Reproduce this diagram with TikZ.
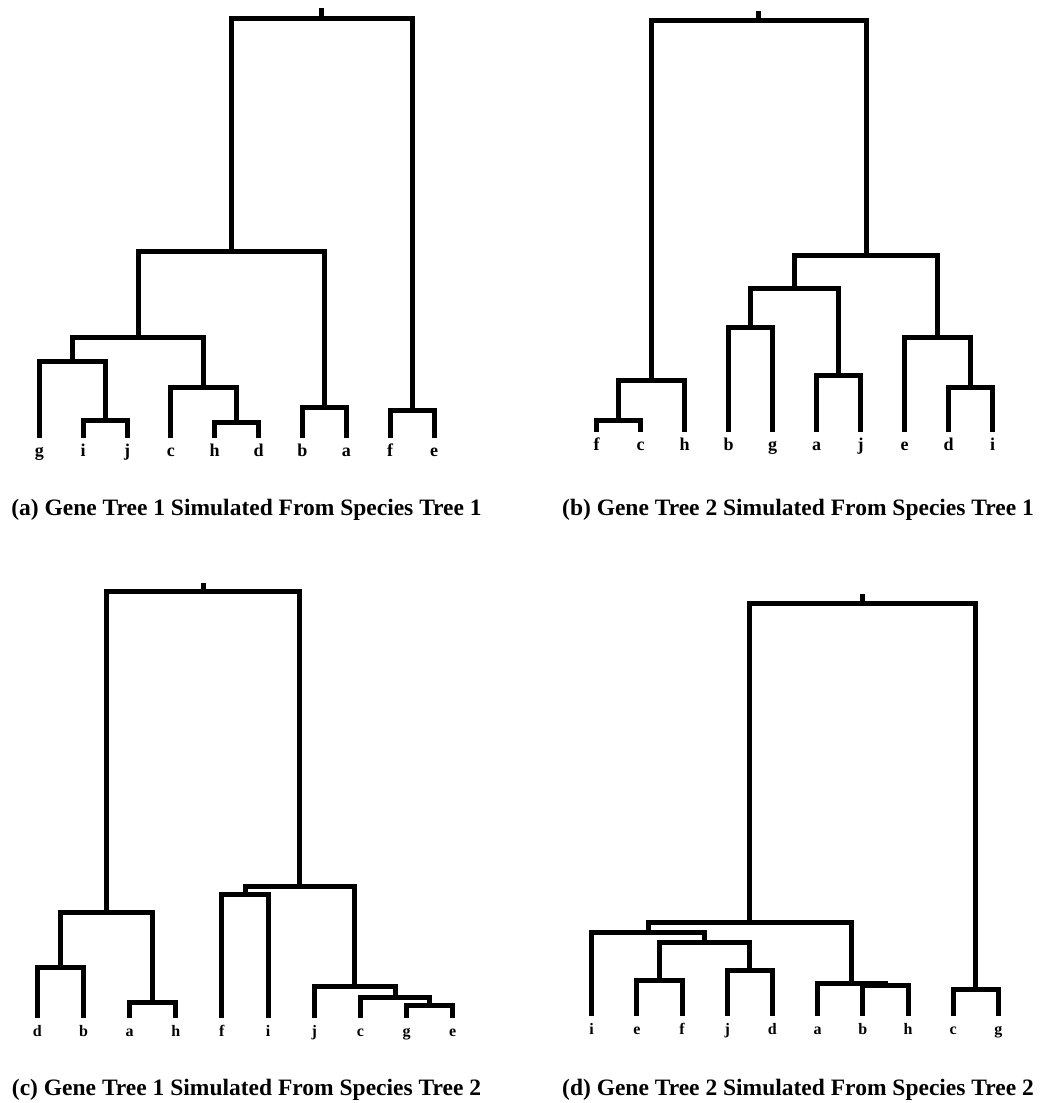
\documentclass[tikz,border=0pt]{standalone}
\usepackage{fontspec}
\setmainfont{Liberation Serif}
\usepackage{tikz}

\begin{document}
\begin{tikzpicture}[x=1pt, y=-1pt,
    branch/.style={line width=5pt},
    leafab/.style={anchor=north, inner xsep=0pt, inner ysep=7pt, text height=11.5pt, text depth=4pt, font=\bfseries\fontsize{18}{18}\selectfont},
    leafcd/.style={anchor=north, inner xsep=0pt, inner ysep=8pt, text height=10pt, text depth=3.5pt, font=\bfseries\fontsize{16}{16}\selectfont},
    caption/.style={anchor=base, font=\bfseries\fontsize{23.5}{23.5}\selectfont}]
    \useasboundingbox (0,0) rectangle (1040,1103);

    % (a) gene tree 1, species tree 1
    \node[leafab] (a-g) at (39.3,438) {g};
    \node[leafab] (a-i) at (83.2,438) {i};
    \node[leafab] (a-j) at (127.0,438) {j};
    \node[leafab] (a-c) at (170.9,438) {c};
    \node[leafab] (a-h) at (214.7,438) {h};
    \node[leafab] (a-d) at (258.6,438) {d};
    \node[leafab] (a-b) at (302.4,438) {b};
    \node[leafab] (a-a) at (346.3,438) {a};
    \node[leafab] (a-f) at (390.1,438) {f};
    \node[leafab] (a-e) at (434.0,438) {e};
    \coordinate (a-ij) at (105.1,420);
    \coordinate (a-gij) at (72.2,361);
    \coordinate (a-hd) at (236.7,422);
    \coordinate (a-chd) at (203.8,387);
    \coordinate (a-gc) at (138.0,337);
    \coordinate (a-ba) at (324.4,407);
    \coordinate (a-gb) at (231.2,251);
    \coordinate (a-fe) at (412.1,410);
    \coordinate (a-root) at (321.6,18.5);
    \coordinate (a-top) at (321.6,8);
    \draw[branch] (a-ij) -| (a-i.north) (a-ij) -| (a-j.north);
    \draw[branch] (a-gij) -| (a-g.north) (a-gij) -| (a-ij);
    \draw[branch] (a-hd) -| (a-h.north) (a-hd) -| (a-d.north);
    \draw[branch] (a-chd) -| (a-c.north) (a-chd) -| (a-hd);
    \draw[branch] (a-gc) -| (a-gij) (a-gc) -| (a-chd);
    \draw[branch] (a-ba) -| (a-b.north) (a-ba) -| (a-a.north);
    \draw[branch] (a-gb) -| (a-gc) (a-gb) -| (a-ba);
    \draw[branch] (a-fe) -| (a-f.north) (a-fe) -| (a-e.north);
    \draw[branch] (a-root) -| (a-gb) (a-root) -| (a-fe);
    \draw[branch] (a-root) -- (a-top);
    \node[caption] (a-cap) at (246.5,515) {(a) Gene Tree 1 Simulated From Species Tree 1};

    % (b) gene tree 2, species tree 1
    \node[leafab] (b-f) at (596.7,432) {f};
    \node[leafab] (b-c) at (640.7,432) {c};
    \node[leafab] (b-h) at (684.7,432) {h};
    \node[leafab] (b-b) at (728.7,432) {b};
    \node[leafab] (b-g) at (772.7,432) {g};
    \node[leafab] (b-a) at (816.7,432) {a};
    \node[leafab] (b-j) at (860.7,432) {j};
    \node[leafab] (b-e) at (904.7,432) {e};
    \node[leafab] (b-d) at (948.7,432) {d};
    \node[leafab] (b-i) at (992.7,432) {i};
    \coordinate (b-fc) at (618.7,420);
    \coordinate (b-fch) at (651.7,380);
    \coordinate (b-bg) at (750.7,327);
    \coordinate (b-aj) at (838.7,375);
    \coordinate (b-ba) at (794.7,288.5);
    \coordinate (b-di) at (970.7,387);
    \coordinate (b-edi) at (937.7,337);
    \coordinate (b-be) at (866.2,255);
    \coordinate (b-root) at (758.9,20.7);
    \coordinate (b-top) at (758.9,10.5);
    \draw[branch] (b-fc) -| (b-f.north) (b-fc) -| (b-c.north);
    \draw[branch] (b-fch) -| (b-fc) (b-fch) -| (b-h.north);
    \draw[branch] (b-bg) -| (b-b.north) (b-bg) -| (b-g.north);
    \draw[branch] (b-aj) -| (b-a.north) (b-aj) -| (b-j.north);
    \draw[branch] (b-ba) -| (b-bg) (b-ba) -| (b-aj);
    \draw[branch] (b-di) -| (b-d.north) (b-di) -| (b-i.north);
    \draw[branch] (b-edi) -| (b-e.north) (b-edi) -| (b-di);
    \draw[branch] (b-be) -| (b-ba) (b-be) -| (b-edi);
    \draw[branch] (b-root) -| (b-fch) (b-root) -| (b-be);
    \draw[branch] (b-root) -- (b-top);
    \node[caption] (b-cap) at (798,515) {(b) Gene Tree 2 Simulated From Species Tree 1};

    % (c) gene tree 1, species tree 2
    \node[leafcd] (c-d) at (37.3,1018) {d};
    \node[leafcd] (c-b) at (83.5,1018) {b};
    \node[leafcd] (c-a) at (129.6,1018) {a};
    \node[leafcd] (c-h) at (175.8,1018) {h};
    \node[leafcd] (c-f) at (221.9,1018) {f};
    \node[leafcd] (c-i) at (268.1,1018) {i};
    \node[leafcd] (c-j) at (314.2,1018) {j};
    \node[leafcd] (c-c) at (360.4,1018) {c};
    \node[leafcd] (c-g) at (406.5,1018) {g};
    \node[leafcd] (c-e) at (452.7,1018) {e};
    \coordinate (c-db) at (60.4,967.3);
    \coordinate (c-ah) at (152.7,1002.3);
    \coordinate (c-da) at (106.6,912.3);
    \coordinate (c-fi) at (245.0,894.3);
    \coordinate (c-ge) at (429.6,1005);
    \coordinate (c-cge) at (395.0,997.7);
    \coordinate (c-jc) at (354.6,986.7);
    \coordinate (c-fj) at (299.8,886.7);
    \coordinate (c-root) at (203.2,591.7);
    \coordinate (c-top) at (203.2,583.3);
    \draw[branch] (c-db) -| (c-d.north) (c-db) -| (c-b.north);
    \draw[branch] (c-ah) -| (c-a.north) (c-ah) -| (c-h.north);
    \draw[branch] (c-da) -| (c-db) (c-da) -| (c-ah);
    \draw[branch] (c-fi) -| (c-f.north) (c-fi) -| (c-i.north);
    \draw[branch] (c-ge) -| (c-g.north) (c-ge) -| (c-e.north);
    \draw[branch] (c-cge) -| (c-c.north) (c-cge) -| (c-ge);
    \draw[branch] (c-jc) -| (c-j.north) (c-jc) -| (c-cge);
    \draw[branch] (c-fj) -| (c-fi) (c-fj) -| (c-jc);
    \draw[branch] (c-root) -| (c-da) (c-root) -| (c-fj);
    \draw[branch] (c-root) -- (c-top);
    \node[caption] (c-cap) at (246.5,1095) {(c) Gene Tree 1 Simulated From Species Tree 2};

    % (d) gene tree 2, species tree 2
    \node[leafcd] (d-i) at (591.7,1016) {i};
    \node[leafcd] (d-e) at (636.9,1016) {e};
    \node[leafcd] (d-f) at (682.1,1016) {f};
    \node[leafcd] (d-j) at (727.2,1016) {j};
    \node[leafcd] (d-d) at (772.4,1016) {d};
    \node[leafcd] (d-a) at (817.6,1016) {a};
    \node[leafcd] (d-b) at (862.8,1016) {b};
    \node[leafcd] (d-h) at (908.0,1016) {h};
    \node[leafcd] (d-c) at (953.1,1016) {c};
    \node[leafcd] (d-g) at (998.3,1016) {g};
    \coordinate (d-ef) at (659.5,980);
    \coordinate (d-jd) at (749.8,970);
    \coordinate (d-ej) at (704.6,942.3);
    \coordinate (d-ie) at (648.2,932.7);
    \coordinate (d-bh) at (885.4,985.5);
    \coordinate (d-abh) at (851.5,983.3);
    \coordinate (d-ia) at (749.8,922.7);
    \coordinate (d-cg) at (975.7,989.3);
    \coordinate (d-root) at (862.8,603.3);
    \coordinate (d-top) at (862.8,594);
    \draw[branch] (d-ef) -| (d-e.north) (d-ef) -| (d-f.north);
    \draw[branch] (d-jd) -| (d-j.north) (d-jd) -| (d-d.north);
    \draw[branch] (d-ej) -| (d-ef) (d-ej) -| (d-jd);
    \draw[branch] (d-ie) -| (d-i.north) (d-ie) -| (d-ej);
    \draw[branch] (d-bh) -| (d-b.north) (d-bh) -| (d-h.north);
    \draw[branch] (d-abh) -| (d-a.north) (d-abh) -| (d-bh);
    \draw[branch] (d-ia) -| (d-ie) (d-ia) -| (d-abh);
    \draw[branch] (d-cg) -| (d-c.north) (d-cg) -| (d-g.north);
    \draw[branch] (d-root) -| (d-ia) (d-root) -| (d-cg);
    \draw[branch] (d-root) -- (d-top);
    \node[caption] (d-cap) at (798,1095) {(d) Gene Tree 2 Simulated From Species Tree 2};
\end{tikzpicture}
\end{document}
